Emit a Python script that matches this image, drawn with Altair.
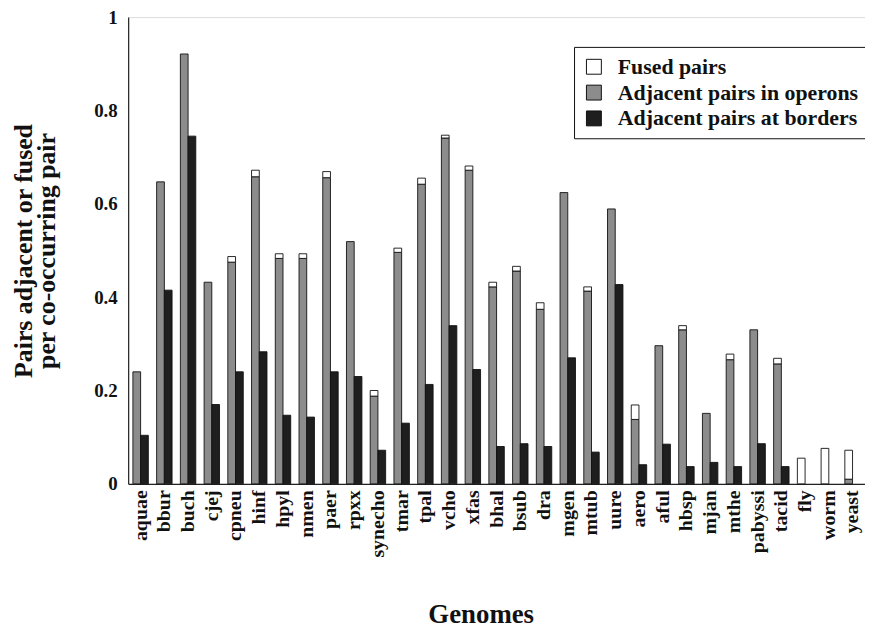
import altair as alt
import pandas as pd

genomes = ["aquae", "bbur", "buch", "cjej", "cpneu", "hinf", "hpyl", "nmen", "paer", "rpxx",
           "synecho", "tmar", "tpal", "vcho", "xfas", "bhal", "bsub", "dra", "mgen", "mtub",
           "uure", "aero", "aful", "hbsp", "mjan", "mthe", "pabyssi", "tacid", "fly", "worm", "yeast"]
operons = [0.240, 0.647, 0.921, 0.432, 0.475, 0.658, 0.483, 0.483, 0.656, 0.519,
           0.188, 0.496, 0.642, 0.741, 0.672, 0.422, 0.456, 0.374, 0.624, 0.413,
           0.589, 0.138, 0.296, 0.330, 0.151, 0.266, 0.330, 0.257, 0.0, 0.0, 0.010]
fused = [0.0, 0.0, 0.0, 0.0, 0.012, 0.014, 0.010, 0.010, 0.013, 0.0,
         0.012, 0.009, 0.013, 0.006, 0.009, 0.010, 0.010, 0.014, 0.0, 0.009,
         0.0, 0.031, 0.0, 0.009, 0.0, 0.012, 0.0, 0.012, 0.055, 0.076, 0.062]
borders = [0.104, 0.415, 0.745, 0.170, 0.240, 0.283, 0.147, 0.143, 0.240, 0.230,
           0.072, 0.130, 0.213, 0.339, 0.245, 0.080, 0.086, 0.080, 0.270, 0.068,
           0.427, 0.041, 0.085, 0.037, 0.046, 0.037, 0.086, 0.037, 0.0, 0.0, 0.0]

series_names = ["Fused pairs", "Adjacent pairs in operons", "Adjacent pairs at borders"]
series_colors = ["#ffffff", "#8c8c8c", "#1e1e1e"]

rows = []
for g, o, f, b in zip(genomes, operons, fused, borders):
    if o > 0:
        rows.append(dict(genome=g, grp="a", series=series_names[1], y0=0.0, y1=o))
    if f > 0:
        rows.append(dict(genome=g, grp="a", series=series_names[0], y0=o, y1=o + f))
    if b > 0:
        rows.append(dict(genome=g, grp="b", series=series_names[2], y0=0.0, y1=b))
df = pd.DataFrame(rows)

serif = "Liberation Serif"

chart = alt.Chart(df).mark_bar(stroke="#111111", strokeWidth=0.9).encode(
    x=alt.X("genome:N", sort=genomes,
            scale=alt.Scale(domain=genomes, paddingInner=0.35, paddingOuter=0.2),
            axis=alt.Axis(title="Genomes", labelAngle=-90, labelFont=serif, labelFontWeight="bold",
                          labelFontSize=20, labelColor="#111", labelPadding=6, ticks=False,
                          domainColor="#222", domainWidth=1.2,
                          titleFont=serif, titleFontSize=27, titleFontWeight="bold",
                          titleColor="#111", titleBaseline="alphabetic", titleY=140, titleX=355)),
    xOffset=alt.XOffset("grp:N", scale=alt.Scale(domain=["a", "b"], paddingInner=0, paddingOuter=0)),
    y=alt.Y("y0:Q", scale=alt.Scale(domain=[0, 1], nice=False),
            axis=alt.Axis(title=["Pairs adjacent or fused", "per co-occurring pair"],
                          values=[0, 0.2, 0.4, 0.6, 0.8, 1], format="~g", grid=False, ticks=False,
                          labelFont=serif, labelFontWeight="bold", labelFontSize=19, labelColor="#111",
                          labelPadding=11, domainColor="#222", domainWidth=1.2,
                          titleFont=serif, titleFontSize=26, titleFontWeight="bold", titleColor="#111",
                          titleX=-92, titleY=235, titleLineHeight=23)),
    y2="y1:Q",
    color=alt.Color("series:N", scale=alt.Scale(domain=series_names, range=series_colors),
                    legend=alt.Legend(title=None, orient="none", legendX=449, legendY=30,
                                      symbolType="square", symbolSize=225, symbolStrokeColor="#111",
                                      symbolStrokeWidth=1, labelFont=serif, labelFontWeight="bold",
                                      labelFontSize=22, labelColor="#111", rowPadding=4,
                                      labelOffset=13, strokeColor="#111", padding=9, labelLimit=320,
                                      fillColor="white")),
).properties(
    width=742, height=470,
    padding={"left": 121, "top": 7, "right": 0, "bottom": 146},
    autosize="none",
).configure_view(stroke=None).configure(background="white")

chart.save("out.html", embed_options={"renderer": "svg", "actions": False})
